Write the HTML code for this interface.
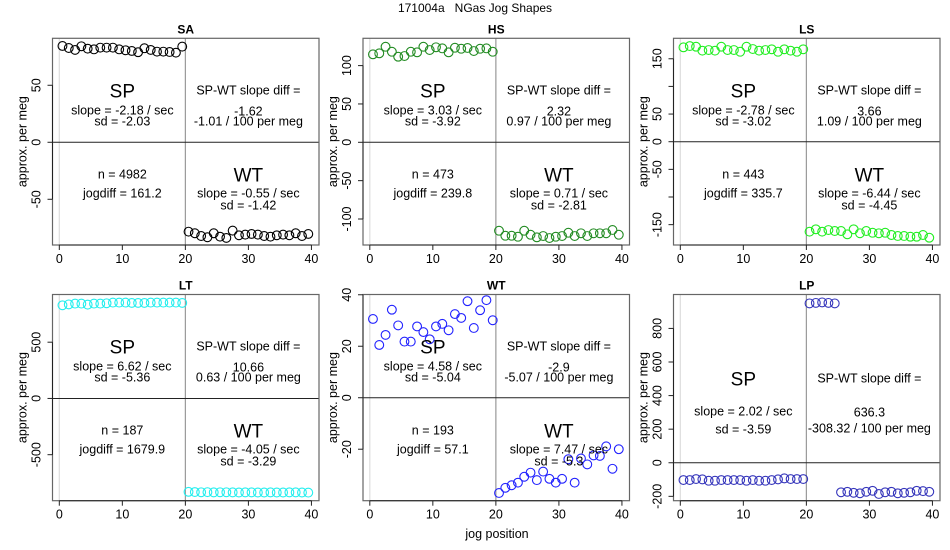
<!DOCTYPE html>
<html><head><meta charset="utf-8"><style>
body{margin:0;background:#fff}
svg{display:block;font-family:"Liberation Sans",sans-serif}
</style></head><body>
<svg id="fig" width="950" height="550" viewBox="0 0 950 550">
<rect x="0" y="0" width="950" height="550" fill="#fff"/>
<text x="475" y="12" text-anchor="middle" font-size="12" fill="#000" style="white-space:pre">171004a&#160;&#160;&#160;NGas Jog Shapes</text>
<text x="497" y="538" text-anchor="middle" font-size="12.5" fill="#000">jog position</text>
</svg>
<script>
const xTicks = [0, 10, 20, 30, 40];
const saSP = [84.5,82.7,81,84.2,82.1,81.5,83,83,83,81.5,80.7,80.1,79,82.5,81,79.5,79.5,79.2,78.6,83.9];
const saWT = [-78.4,-79.8,-82.2,-83.3,-79.8,-82.8,-83.9,-77.5,-81.6,-81,-80.4,-81,-82.2,-82.8,-81.6,-81,-81.6,-79.8,-82.2,-80.4];
const hsSP = [114.7,116,124.6,118.1,111.6,112.5,118.1,117.3,124.6,120.3,123.9,122.5,117.3,123.3,122,123,119,122,122.5,118.1];
const hsWT = [-115.3,-121.8,-121.8,-123.1,-115.3,-120.5,-123.9,-122.2,-124.8,-123.1,-122.2,-117.9,-122.2,-118.6,-122.2,-118.6,-118.6,-118.6,-114.3,-120.5];
const lsSP = [170.7,173,171.8,164.6,165.8,164.6,171.8,165.8,165.8,162.7,171.8,167.6,164.6,165.8,167.1,162.7,167.1,164.6,162.7,167.1];
const lsWT = [-162.7,-158.4,-162.7,-159.7,-161.5,-161.5,-167.5,-158.4,-165.6,-161.5,-164.6,-165.6,-164.6,-168.7,-170.5,-170.5,-171.8,-171.8,-168.7,-173.6];
const ltSP = [828,836,843,843,834,843,843,846,852,852,852,849,849,849,852,852,852,852,852,849];
const ltWT = [-830,-832,-834,-833,-835,-834,-834,-835,-836,-835,-835,-836,-836,-835,-836,-836,-835,-835,-836,-837];
const wtSP = [30.6,20.5,24.4,34.2,28.1,21.8,21.8,27.7,25.5,22.7,27.7,28.7,26.2,32.5,31,37.5,27.1,34,37.9,30.1];
const wtWT = [-37,-35,-34,-33,-30.7,-29.1,-32,-28.7,-31.5,-33,-31.5,-23.9,-33,-23.6,-25.9,-22.4,-22.6,-18.9,-27.6,-20];
const lpSP = [-103,-103,-97,-99,-107,-107,-103,-103,-103,-103,-107,-103,-107,-107,-103,-99,-93,-97,-97,-97];
const lpWT = [949,952,955,952,949,-176,-173,-179,-182,-173,-167,-186,-176,-173,-182,-179,-176,-167,-169,-173];

const saTicks = [-50, 0, 50];
const hsTicks = [-100, -50, 0, 50, 100];
const lsTicks = [-150, -100, -50, 0, 50, 100, 150];
const lsTickLabels = ["-150", "", "-50", "0", "50", "", "150"];
const ltTicks = [-500, 0, 500];
const wtTicks = [-20, 0, 20, 40];
const lpTicks = [-200, 0, 200, 400, 600, 800];

const panels = [
 {id:'sa',title:'SA',col:0,row:0,ymin:-90.1,ymax:91.2,ticks:saTicks,sp:saSP,wt:saWT,color:'#000',
  t:['-2.18','-2.03','-1.62','-1.01','4982','161.2','-0.55','-1.42']},
 {id:'hs',title:'HS',col:1,row:0,ymin:-133.9,ymax:135.6,ticks:hsTicks,sp:hsSP,wt:hsWT,color:'#228B22',
  t:['3.03','-3.92','2.32','0.97','473','239.8','0.71','-2.81']},
 {id:'ls',title:'LS',col:2,row:0,ymin:-186.8,ymax:187,ticks:lsTicks,labels:lsTickLabels,sp:lsSP,wt:lsWT,color:'#22EE22',
  t:['-2.78','-3.02','3.66','1.09','443','335.7','-6.44','-4.45']},
 {id:'lt',title:'LT',col:0,row:1,ymin:-909,ymax:924,ticks:ltTicks,sp:ltSP,wt:ltWT,color:'#22EEEE',
  t:['6.62','-5.36','10.66','0.63','187','1679.9','-4.05','-3.29']},
 {id:'wt',title:'WT',col:1,row:1,ymin:-40,ymax:40.1,ticks:wtTicks,sp:wtSP,wt:wtWT,color:'#2222FF',
  t:['4.58','-5.04','-2.9','-5.07','193','57.1','7.47','-5.3']},
 {id:'lp',title:'LP',col:2,row:1,ymin:-226,ymax:1002,ticks:lpTicks,sp:lpSP,wt:lpWT,color:'#3535BB',lp:true,
  t:['2.02','-3.59','636.3','-308.32']}
];

const NS='http://www.w3.org/2000/svg';
const svg=document.getElementById('fig');
function mk(tag,attrs,parent,txt){
  const e=document.createElementNS(NS,tag);
  for(const k in attrs) e.setAttribute(k,attrs[k]);
  if(txt!==undefined) e.textContent=txt;
  (parent||svg).appendChild(e);
  return e;
}
const PW=266.5, XMIN=-1.08, XMAX=41.2;
panels.forEach(p=>{
  const L=52.5+p.col*310.5, R=L+PW;
  const T=p.row===0?38.3:294.5, B=p.row===0?245:500.7;
  const xs=v=>L+(v-XMIN)/(XMAX-XMIN)*(R-L);
  const ys=v=>B-(v-p.ymin)/(p.ymax-p.ymin)*(B-T);
  const g=mk('g',{});
  
  
  const ttl=mk('text',{x:(L+R)/2,y:T-5,'text-anchor':'middle','font-size':12,'font-weight':'bold'},g,p.title);
  
  
  mk('line',{x1:xs(0),x2:xs(0),y1:T,y2:B,stroke:'#ddd','stroke-width':1.2},g);
  mk('line',{x1:xs(20),x2:xs(20),y1:T,y2:B,stroke:'#999','stroke-width':1.2},g);
  mk('line',{x1:L,x2:R,y1:ys(0),y2:ys(0),stroke:'#222','stroke-width':1},g);
  const box=mk('rect',{x:L,y:T,width:R-L,height:B-T,fill:'none',stroke:'#666','stroke-width':1.2},g);
  
  
  const xa=mk('g',{},g);
  
  
  mk('line',{x1:xs(xTicks[0]),x2:xs(xTicks[xTicks.length-1]),y1:B,y2:B,stroke:'#222'},xa);
  xTicks.forEach(v=>{
    mk('line',{x1:xs(v),x2:xs(v),y1:B,y2:B+5,stroke:'#222'},xa);
    mk('text',{x:xs(v),y:B+18,'text-anchor':'middle','font-size':12.5},xa,String(v));
  });
  const ya=mk('g',{},g);
  
  
  mk('line',{x1:L,x2:L,y1:ys(p.ticks[0]),y2:ys(p.ticks[p.ticks.length-1]),stroke:'#222'},ya);
  p.ticks.forEach((v,i)=>{
    mk('line',{x1:L-5,x2:L,y1:ys(v),y2:ys(v),stroke:'#222'},ya);
    const lab=p.labels?p.labels[i]:String(v);
    if(lab) mk('text',{x:0,y:0,'text-anchor':'middle','font-size':12.5,transform:`translate(${L-12},${ys(v)}) rotate(-90)`},ya,lab);
  });
  const yt=mk('text',{x:0,y:0,'text-anchor':'middle','font-size':12.5,transform:`translate(${L-26},${(T+B)/2}) rotate(-90)`},g,'approx. per meg');
  
  
  const addPts=(arr,off,nm)=>arr.forEach((v,i)=>{
    const c=mk('circle',{cx:xs(off+i+0.5),cy:ys(v),r:4.4,fill:'none',stroke:p.color,'stroke-width':1.1},g);
    
    
  });
  addPts(p.sp,0,p.id+'-sp');
  addPts(p.wt,20,p.id+'-wt');
  const cl=xs(10), cr=xs(30);
  const tx=(x,y,s,fs)=>mk('text',{x:x,y:y,'text-anchor':'middle','font-size':fs||12.5},g,s);
  const t=p.t;
  if(!p.lp){
    tx(cl,T+59,'SP',19); tx(cl,T+76,'slope = '+t[0]+' / sec'); tx(cl,T+87,'sd = '+t[1]);
    tx(cr,T+56,'SP-WT slope diff ='); tx(cr,T+77,t[2]); tx(cr,T+87,t[3]+' / 100 per meg');
    tx(cl,T+140,'n = '+t[4]); tx(cl,T+159,'jogdiff = '+t[5]);
    tx(cr,T+143,'WT',19); tx(cr,T+159,'slope = '+t[6]+' / sec'); tx(cr,T+171,'sd = '+t[7]);
  } else {
    tx(cl,T+91,'SP',19); tx(cl,T+121,'slope = '+t[0]+' / sec'); tx(cl,T+139,'sd = '+t[1]);
    tx(cr,T+88,'SP-WT slope diff ='); tx(cr,T+122,t[2]); tx(cr,T+138,t[3]+' / 100 per meg');
  }
});
</script>
</body></html>
